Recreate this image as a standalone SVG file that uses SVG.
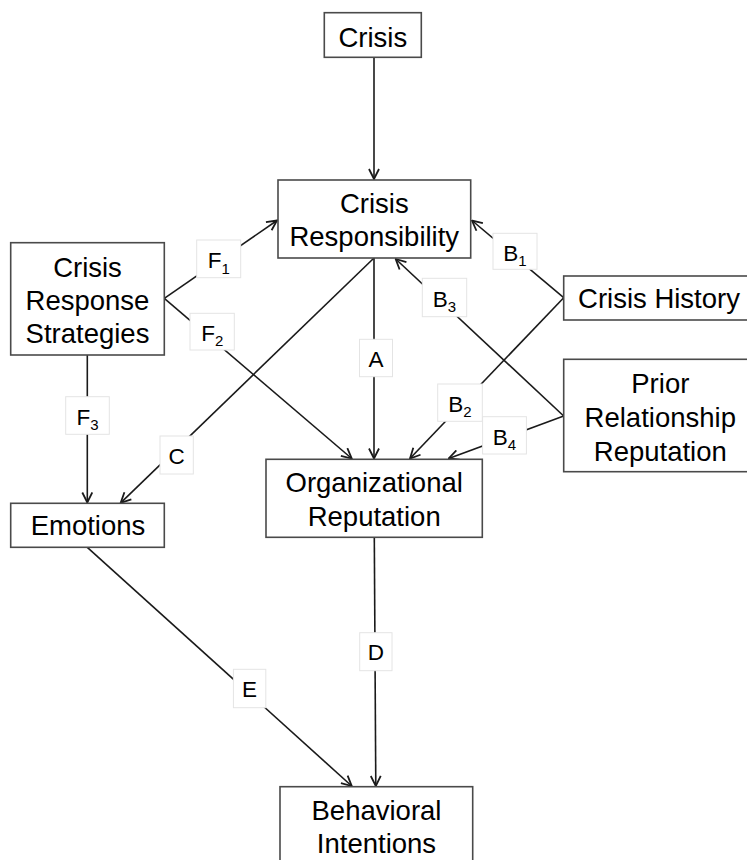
<svg xmlns="http://www.w3.org/2000/svg" width="747" height="860" viewBox="0 0 747 860">
<defs>
<style>
.box{fill:#fff;stroke:#4a4a4a;stroke-width:1.6}
.t{font-family:"Liberation Sans",Arial,sans-serif;font-size:27.5px;fill:#000;text-anchor:middle}
.e{fill:none;stroke:#1a1a1a;stroke-width:1.6;marker-end:url(#ah)}
.lb{fill:#fff;stroke:#e4e4e4;stroke-width:1}
.lt{font-family:"Liberation Sans",Arial,sans-serif;font-size:22.5px;fill:#000;text-anchor:middle}
.sub{font-size:15px}
</style>
<marker id="ah" viewBox="0 0 12 12" refX="11" refY="6" markerWidth="12" markerHeight="12" markerUnits="userSpaceOnUse" orient="auto">
<path d="M1,1 L11,6 L1,11" fill="none" stroke="#1a1a1a" stroke-width="1.8"/>
</marker>
</defs>
<rect width="747" height="860" fill="#fff"/>
<g id="connectors">
<line class="e" x1="374" y1="57" x2="374" y2="179"/>
<line class="e" x1="164.3" y1="298.3" x2="277" y2="220.5"/>
<line class="e" x1="164.3" y1="298.3" x2="351.7" y2="458.5"/>
<line class="e" x1="87.3" y1="355" x2="87.3" y2="502.5"/>
<line class="e" x1="374" y1="258" x2="120.7" y2="502.8"/>
<line class="e" x1="374" y1="258" x2="374" y2="458.5"/>
<line class="e" x1="374.3" y1="537.3" x2="375.8" y2="786"/>
<line class="e" x1="87.3" y1="547.3" x2="351.7" y2="786"/>
<line class="e" x1="563.7" y1="297.7" x2="472" y2="220.5"/>
<line class="e" x1="563.7" y1="297.7" x2="410" y2="458.5"/>
<line class="e" x1="563.7" y1="416" x2="395.7" y2="259"/>
<line class="e" x1="563.7" y1="416" x2="448.7" y2="458.5"/>
<g id="labels">
<rect class="lb" x="196.7" y="240" width="44" height="37.7"/>
<text class="lt" x="218.7" y="268">F<tspan class="sub" dy="5.5">1</tspan></text>
<rect class="lb" x="190" y="313.3" width="44.3" height="36.7"/>
<text class="lt" x="212.2" y="340.8">F<tspan class="sub" dy="5.5">2</tspan></text>
<rect class="lb" x="65.7" y="396.7" width="43.6" height="37.6"/>
<text class="lt" x="87.5" y="424.5">F<tspan class="sub" dy="5.5">3</tspan></text>
<rect class="lb" x="160" y="436" width="33.3" height="38"/>
<text class="lt" x="176.7" y="463.5">C</text>
<rect class="lb" x="359.5" y="339.3" width="33" height="37.4"/>
<text class="lt" x="376" y="366.5">A</text>
<rect class="lb" x="493" y="233.3" width="44" height="36"/>
<text class="lt" x="515" y="260.5">B<tspan class="sub" dy="5.5">1</tspan></text>
<rect class="lb" x="437.7" y="384" width="44.6" height="37.3"/>
<text class="lt" x="460" y="411.8">B<tspan class="sub" dy="5.5">2</tspan></text>
<rect class="lb" x="422.3" y="278.3" width="44.4" height="38.4"/>
<text class="lt" x="444.5" y="306.5">B<tspan class="sub" dy="5.5">3</tspan></text>
<rect class="lb" x="482.6" y="416.7" width="43.8" height="37.3"/>
<text class="lt" x="504.5" y="444.5">B<tspan class="sub" dy="5.5">4</tspan></text>
<rect class="lb" x="359.7" y="632.7" width="32.3" height="38"/>
<text class="lt" x="375.8" y="660.3">D</text>
<rect class="lb" x="233.4" y="669.3" width="32.4" height="38.4"/>
<text class="lt" x="249.6" y="697">E</text>
</g>
</g>
<g id="crisis">
<rect class="box" x="324.3" y="12.7" width="97" height="44.6"/>
<text class="t" x="372.8" y="46.5">Crisis</text>
</g>
<g id="crisis-responsibility">
<rect class="box" x="278" y="180" width="192.7" height="78"/>
<text class="t" x="374.3" y="213">Crisis</text>
<text class="t" x="374.3" y="246">Responsibility</text>
</g>
<g id="crisis-response-strategies">
<rect class="box" x="10.7" y="242.7" width="153.6" height="112.3"/>
<text class="t" x="87.5" y="277">Crisis</text>
<text class="t" x="87.5" y="310">Response</text>
<text class="t" x="87.5" y="343">Strategies</text>
</g>
<g id="crisis-history">
<rect class="box" x="563.7" y="276" width="200" height="44"/>
<text class="t" x="659" y="308.3">Crisis History</text>
</g>
<g id="prior-relationship-reputation">
<rect class="box" x="563.7" y="359.3" width="200" height="112.4"/>
<text class="t" x="660.3" y="393.3">Prior</text>
<text class="t" x="660.3" y="427">Relationship</text>
<text class="t" x="660.3" y="460.5">Reputation</text>
</g>
<g id="emotions">
<rect class="box" x="10.7" y="503.3" width="153.6" height="44"/>
<text class="t" x="88" y="535">Emotions</text>
</g>
<g id="organizational-reputation">
<rect class="box" x="266" y="459.3" width="216.3" height="78"/>
<text class="t" x="374.2" y="492.3">Organizational</text>
<text class="t" x="374.2" y="525.7">Reputation</text>
</g>
<g id="behavioral-intentions">
<rect class="box" x="280" y="786.7" width="192.7" height="90"/>
<text class="t" x="376.5" y="820">Behavioral</text>
<text class="t" x="376.5" y="853.3">Intentions</text>
</g>
</svg>
